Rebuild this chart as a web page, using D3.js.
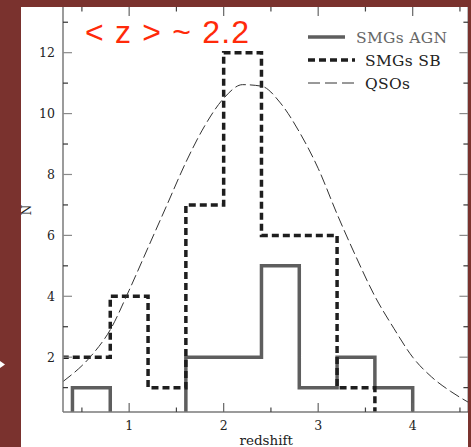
<!DOCTYPE html>
<html>
<head>
<meta charset="utf-8">
<script src="https://cdn.jsdelivr.net/npm/d3@7"></script>
<style>
  html, body { margin: 0; padding: 0; background: #7a322e; }
  svg { display: block; }
</style>
</head>
<body>
<svg id="chart" width="471" height="447"></svg>
<script>
// Redshift distribution: histogram bin edges (shared by both SMG samples)
const binEdges = [0.0, 0.4, 0.8, 1.2, 1.6, 2.0, 2.4, 2.8, 3.2, 3.6, 4.0];
// Counts per bin
const agnCounts = [0, 1, 0, 0, 2, 2, 5, 1, 2, 1];
const sbCounts  = [2, 2, 4, 1, 7, 12, 6, 6, 1, 0];

// QSO redshift distribution (scaled), sampled along z
const qsoZ = [0.3, 0.6, 0.8, 1.0, 1.2, 1.4, 1.6, 1.8, 2.0, 2.2, 2.4, 2.6, 2.8, 3.0, 3.2, 3.4, 3.6, 3.8, 4.0, 4.2, 4.4, 4.6];
const qsoN = [1.2, 2.05, 2.9, 4.2, 5.6, 7.0, 8.4, 9.6, 10.5, 10.95, 10.9, 10.35, 9.4, 8.2, 6.7, 5.3, 4.0, 2.95, 2.0, 1.35, 0.88, 0.5];

// Axis ticks
const xMajor = [1, 2, 3, 4];
const xMinor = [0.5, 1.5, 2.5, 3.5, 4.5];
const yMajor = [2, 4, 6, 8, 10, 12];
const yMinor = [1, 3, 5, 7, 9, 11, 13];

const legendItems = ["SMGs AGN", "SMGs SB", "QSOs"];
const annotation = "< z > ~ 2.2";

const svg = d3.select("#chart");

// white panel
const panel = { x: 21, y: 7, w: 447, h: 440 };
svg.append("rect").attr("width", 471).attr("height", 447).attr("fill", "#7a322e");
svg.append("rect").attr("x", panel.x).attr("y", panel.y)
  .attr("width", panel.w).attr("height", panel.h).attr("fill", "#ffffff");

svg.append("defs").append("clipPath").attr("id", "panelClip")
  .append("rect").attr("x", panel.x).attr("y", panel.y).attr("width", panel.w).attr("height", panel.h);

const x = d3.scaleLinear().domain([0.3, 4.6]).range([63, 469.4]);
const y = d3.scaleLinear().domain([0.2, 13.5]).range([412, 7]);

svg.append("defs").append("clipPath").attr("id", "plotClip")
  .append("rect").attr("x", x(0.3)).attr("y", y(13.5))
  .attr("width", x(4.6) - x(0.3)).attr("height", y(0.2) - y(13.5));

const root = svg.append("g").attr("clip-path", "url(#panelClip)");
const plot = root.append("g").attr("clip-path", "url(#plotClip)");

// step outline of a histogram
function stepPoints(counts) {
  const pts = [[binEdges[0], 0]];
  counts.forEach((c, i) => pts.push([binEdges[i], c]));
  pts.push([binEdges[binEdges.length - 1], 0]);
  return pts;
}
const stepLine = d3.line().x(d => x(d[0])).y(d => y(d[1])).curve(d3.curveStepAfter);

plot.append("path").attr("d", stepLine(stepPoints(agnCounts)))
  .attr("fill", "none").attr("stroke", "#5e5e5e").attr("stroke-width", 3.5);

plot.append("path").attr("d", stepLine(stepPoints(sbCounts)))
  .attr("fill", "none").attr("stroke", "#1e1e1e").attr("stroke-width", 3.5)
  .attr("stroke-dasharray", "7,4");

const qsoLine = d3.line().x((d, i) => x(qsoZ[i])).y(d => y(d)).curve(d3.curveMonotoneX);
plot.append("path").attr("d", qsoLine(qsoN))
  .attr("fill", "none").attr("stroke", "#333").attr("stroke-width", 1)
  .attr("stroke-dasharray", "11,4");

// frame
const axisColor = "#7a7a7a";
const frame = root.append("g");
frame.append("line").attr("x1", x(0.3)).attr("x2", x(0.3)).attr("y1", y(13.5)).attr("y2", y(0.2))
  .attr("stroke", axisColor).attr("stroke-width", 1.5);
frame.append("line").attr("x1", x(0.3)).attr("x2", x(4.6)).attr("y1", y(0.2)).attr("y2", y(0.2))
  .attr("stroke", axisColor).attr("stroke-width", 1.5);
frame.append("line").attr("x1", x(4.6) - 1).attr("x2", x(4.6) - 1).attr("y1", y(13.5)).attr("y2", y(0.2))
  .attr("stroke", "#444").attr("stroke-width", 1.5);

// ticks on all four sides
function xTicks(vals, len, color) {
  vals.forEach(v => {
    frame.append("line").attr("x1", x(v)).attr("x2", x(v)).attr("y1", y(0.2)).attr("y2", y(0.2) - len)
      .attr("stroke", color).attr("stroke-width", 1.2);
    frame.append("line").attr("x1", x(v)).attr("x2", x(v)).attr("y1", y(13.5)).attr("y2", y(13.5) + len)
      .attr("stroke", color).attr("stroke-width", 1.2);
  });
}
function yTicks(vals, len, color) {
  vals.forEach(v => {
    frame.append("line").attr("x1", x(0.3)).attr("x2", x(0.3) + len).attr("y1", y(v)).attr("y2", y(v))
      .attr("stroke", color).attr("stroke-width", 1.2);
    frame.append("line").attr("x1", x(4.6) - 1).attr("x2", x(4.6) - 1 - len).attr("y1", y(v)).attr("y2", y(v))
      .attr("stroke", color).attr("stroke-width", 1.2);
  });
}
xTicks(xMajor, 9, "#666");
xTicks(xMinor, 4.5, "#444");
yTicks(yMajor, 9, "#8a8a8a");
yTicks(yMinor, 5, "#333");

const serif = "'DejaVu Serif', serif";
root.append("g").selectAll("text").data(xMajor).join("text")
  .attr("x", d => x(d)).attr("y", 430).attr("text-anchor", "middle")
  .attr("font-family", serif).attr("font-size", 12.5).attr("fill", "#222")
  .text(d => d);
root.append("g").selectAll("text").data(yMajor).join("text")
  .attr("x", 55).attr("y", d => y(d) + 4.5).attr("text-anchor", "end")
  .attr("font-family", serif).attr("font-size", 12.5).attr("fill", "#222")
  .text(d => d);

root.append("text").attr("x", (x(0.3) + x(4.6)) / 2).attr("y", 445).attr("text-anchor", "middle")
  .attr("font-family", serif).attr("font-size", 13.5).attr("fill", "#222").text("redshift");
root.append("text").attr("transform", "translate(31,210) rotate(-90)").attr("text-anchor", "middle")
  .attr("font-family", serif).attr("font-size", 12).attr("fill", "#222").text("N");

// legend
const legend = root.append("g");
const legendStyles = [
  { color: "#5e5e5e", width: 3.5, dash: null, x2: 345, tx: 356, tcolor: "#666" },
  { color: "#1e1e1e", width: 3.5, dash: "7,4", x2: 355, tx: 365, tcolor: "#222" },
  { color: "#333", width: 1, dash: "12,5", x2: 354, tx: 365, tcolor: "#222" }
];
legendItems.forEach((name, i) => {
  const s = legendStyles[i];
  const ly = 37 + i * 23;
  legend.append("line").attr("x1", 308).attr("x2", s.x2).attr("y1", ly).attr("y2", ly)
    .attr("stroke", s.color).attr("stroke-width", s.width)
    .attr("stroke-dasharray", s.dash);
  legend.append("text").attr("x", s.tx).attr("y", ly + 5.5)
    .attr("font-family", serif).attr("font-size", 15.5).attr("letter-spacing", 0.3)
    .attr("fill", s.tcolor).text(name);
});

// mean redshift annotation
root.append("text").attr("x", 85).attr("y", 43)
  .attr("font-family", "'Liberation Sans', Arial, sans-serif").attr("font-size", 32)
  .attr("letter-spacing", 1.2)
  .attr("fill", "#ff2a0a").text(annotation);

// small marker on the left strip
svg.append("path").attr("d", "M0,361 L5,364.5 L0,368 Z").attr("fill", "#ffffff");
</script>
</body>
</html>
